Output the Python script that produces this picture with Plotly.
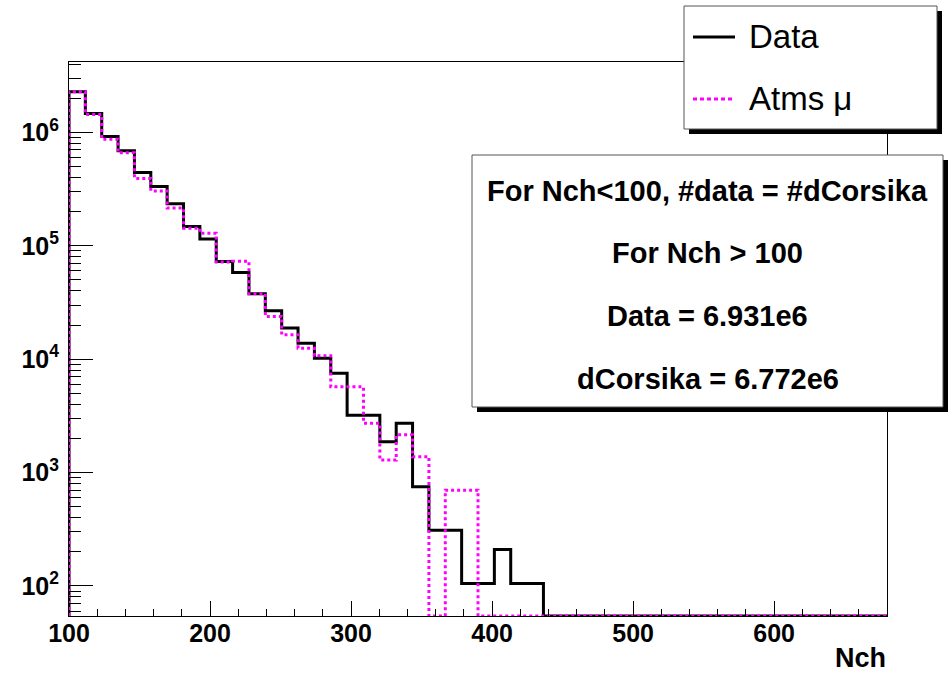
import numpy as np
import plotly.graph_objects as go

# ---------------- data ----------------
bin_low = 100.0
bin_high = 680.0
n_bins = 50

data_counts = [
    2.28e6, 1.47e6, 9.2e5, 6.9e5, 4.44e5, 3.33e5, 2.35e5, 1.48e5, 1.15e5, 7.27e4,
    5.8e4, 3.77e4, 2.67e4, 1.88e4, 1.38e4, 1.02e4, 7.5e3, 3.2e3, 3.2e3, 1.87e3,
    2.72e3, 750, 310, 310, 105, 105, 210, 105, 105, 0,
    0, 0, 0, 0, 0, 0, 0, 0, 0, 0,
    0, 0, 0, 0, 0, 0, 0, 0, 0, 0,
]
atms_counts = [
    2.28e6, 1.44e6, 8.7e5, 6.6e5, 3.93e5, 3.05e5, 2.15e5, 1.43e5, 1.29e5, 7.2e4,
    7.3e4, 3.77e4, 2.38e4, 1.64e4, 1.25e4, 1.07e4, 5.7e3, 5.7e3, 2.72e3, 1.29e3,
    2.15e3, 1.38e3, 0, 700, 700, 0, 0, 0, 0, 0,
    0, 0, 0, 0, 0, 0, 0, 0, 0, 0,
    0, 0, 0, 0, 0, 0, 0, 0, 0, 0,
]

series_names = ["Data", "Atms \u03bc"]
x_tick_vals = [100, 200, 300, 400, 500, 600]
x_tick_text = ["100", "200", "300", "400", "500", "600"]
y_tick_vals = [1e2, 1e3, 1e4, 1e5, 1e6]
y_tick_text = ["10<sup>2</sup>", "10<sup>3</sup>", "10<sup>4</sup>", "10<sup>5</sup>", "10<sup>6</sup>"]
x_title = "Nch"
box_lines = [
    "For Nch&lt;100, #data = #dCorsika",
    "For Nch &gt; 100",
    "Data = 6.931e6",
    "dCorsika = 6.772e6",
]

# ---------------- layout geometry ----------------
W, H = 950, 673
ML, MR, MT, MB = 69, 63, 62, 57
PW, PH = W - ML - MR, H - MT - MB
log_range = [1.735, 6.621]
floor_val = 10 ** log_range[0]


def px_x(px):
    return (px - ML) / PW


def px_y(py):
    return (H - MB - py) / PH


edges = np.linspace(bin_low, bin_high, n_bins + 1)


def step_xy(counts):
    vals = [c if c > 0 else floor_val for c in counts]
    xs = [edges[0]] + list(edges[:-1]) + [edges[-1], edges[-1]]
    ys = [floor_val] + vals + [vals[-1], floor_val]
    return xs, ys


fig = go.Figure()
xs, ys = step_xy(data_counts)
fig.add_trace(go.Scatter(x=xs, y=ys, mode="lines", line=dict(shape="hv", color="black", width=3),
                         name=series_names[0], showlegend=False))
xs, ys = step_xy(atms_counts)
fig.add_trace(go.Scatter(x=xs, y=ys, mode="lines",
                         line=dict(shape="hv", color="#ff00ff", width=3, dash="3px,3px"),
                         name=series_names[1], showlegend=False))

FONT = "Liberation Sans"
tickfont = dict(family=FONT, size=25, color="black", weight="bold")

minor_y = [k * 10 ** n for n in range(1, 7) for k in range(2, 10)]

fig.update_layout(
    width=W, height=H,
    margin=dict(l=ML, r=MR, t=MT, b=MB, pad=0),
    paper_bgcolor="white", plot_bgcolor="white",
    xaxis=dict(range=[bin_low, bin_high], tickmode="array", tickvals=x_tick_vals, ticktext=x_tick_text,
               ticks="inside", ticklen=15, tickwidth=1, tickcolor="black",
               minor=dict(ticks="inside", ticklen=7, tickwidth=1, tickcolor="black", dtick=20, tick0=100),
               showline=True, linecolor="black", linewidth=1, mirror=True,
               showgrid=False, zeroline=False, tickfont=tickfont, ticklabelstandoff=-5),
    yaxis=dict(type="log", range=log_range, tickmode="array", tickvals=y_tick_vals, ticktext=y_tick_text,
               ticks="inside", ticklen=24, tickwidth=1, tickcolor="black",
               minor=dict(ticks="inside", ticklen=12, tickwidth=1, tickcolor="black",
                          tickmode="array", tickvals=minor_y),
               showline=True, linecolor="black", linewidth=1, mirror=True,
               showgrid=False, zeroline=False, tickfont=tickfont, ticklabelstandoff=4),
)

shapes = []
annotations = []


def box(x0, y0, x1, y1, shadow=5):
    shapes.append(dict(type="rect", xref="paper", yref="paper", layer="above",
                       x0=px_x(x0 + shadow), x1=px_x(x1 + shadow), y0=px_y(y1 + shadow), y1=px_y(y0 + shadow),
                       fillcolor="black", line=dict(width=0)))
    shapes.append(dict(type="rect", xref="paper", yref="paper", layer="above",
                       x0=px_x(x0), x1=px_x(x1), y0=px_y(y1), y1=px_y(y0),
                       fillcolor="white", line=dict(color="#555555", width=1)))


# legend box
box(684, 6, 937, 129)
shapes.append(dict(type="line", xref="paper", yref="paper", layer="above",
                   x0=px_x(693), x1=px_x(735), y0=px_y(37), y1=px_y(37),
                   line=dict(color="black", width=3)))
shapes.append(dict(type="line", xref="paper", yref="paper", layer="above",
                   x0=px_x(693), x1=px_x(735), y0=px_y(99), y1=px_y(99),
                   line=dict(color="#ff00ff", width=3, dash="4px,3px")))
for name, yc in zip(series_names, [36, 98]):
    annotations.append(dict(xref="paper", yref="paper", x=px_x(747), y=px_y(yc), text=name,
                            showarrow=False, xanchor="left", yanchor="middle",
                            font=dict(family=FONT, size=33, color="black")))

# text box
box(472, 155, 943, 407)
for line, yc in zip(box_lines, [191, 253, 316, 379]):
    annotations.append(dict(xref="paper", yref="paper", x=px_x(707.5), y=px_y(yc), text=line,
                            showarrow=False, xanchor="center", yanchor="middle",
                            font=dict(family=FONT, size=29, color="black", weight="bold")))

# axis title
annotations.append(dict(xref="paper", yref="paper", x=px_x(888), y=px_y(658), text=x_title,
                        showarrow=False, xanchor="right", yanchor="middle",
                        font=dict(family=FONT, size=27, color="black", weight="bold")))

fig.update_layout(shapes=shapes, annotations=annotations)
fig.write_html("out.html", config={"displayModeBar": False},
               post_script="document.body.style.margin='0px';")
